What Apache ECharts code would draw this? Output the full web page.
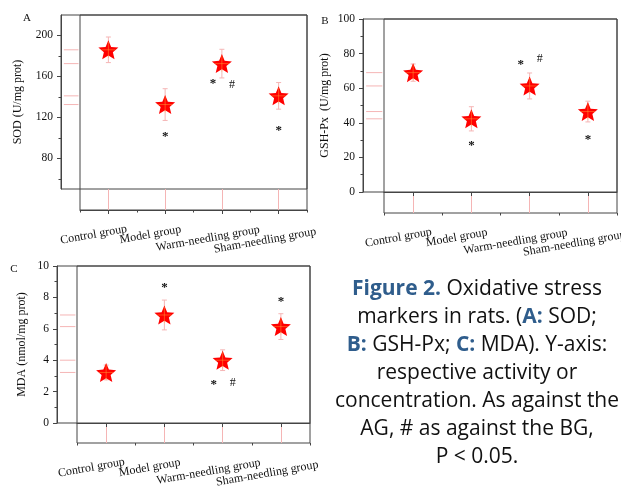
<!DOCTYPE html>
<html><head><meta charset="utf-8">
<script src="https://cdn.jsdelivr.net/npm/echarts@6/dist/echarts.min.js"></script>
<style>html,body{margin:0;padding:0;background:#fff}#c{width:621px;height:488px}</style>
</head><body><div id="c"></div>
<script>
// ---------- DATA ----------
const categories = ['Control group', 'Model group', 'Warm-needling group', 'Sham-needling group'];

// A: SOD (U/mg prot)
const sodMean  = [186, 132.5, 172.5, 141];
const sodSD    = [12.5, 15.5, 14, 13];
const sodStar  = [null, 104.5, 156, 110];
const sodHash  = [null, null, 152, null];
const sodTicks = [80, 120, 160, 200];
const sodMinor = [60, 100, 140, 180];

// B: GSH-Px (U/mg prot)
const gshMean  = [69, 42.3, 61.3, 46.5];
const gshSD    = [5, 7, 7.5, 6];
const gshStar  = [null, 28.6, 75.4, 32.1];
const gshHash  = [null, null, 76.9, null];
const gshTicks = [0, 20, 40, 60, 80, 100];
const gshMinor = [10, 30, 50, 70, 90];

// C: MDA (nmol/mg prot)
const mdaMean  = [3.22, 6.88, 4.0, 6.14];
const mdaSD    = [0.47, 0.95, 0.66, 0.82];
const mdaStar  = [null, 8.85, 2.65, 7.98];
const mdaHash  = [null, null, 2.54, null];
const mdaTicks = [0, 2, 4, 6, 8, 10];
const mdaMinor = [1, 3, 5, 7, 9];

// ---------- STYLE ----------
const FRAME = '#444';
const PINK = '#f5b5b5';
const SERIF = 'Liberation Serif';
const STAR = 'path://M100 0 L126.45 63.59 L195.11 69.1 L142.8 113.91 L158.78 180.9 L100 145 L41.22 180.9 L57.2 113.91 L4.89 69.1 L73.55 63.59 Z';
const labelDrop = [0, 0, 4, 6];

const option = {
  animation: false,
  backgroundColor: '#fff',
  textStyle: { fontFamily: SERIF },
  grid: [], xAxis: [], yAxis: [], series: [], graphic: [], title: []
};

function addGrid(g) {
  option.grid.push(Object.assign({ containLabel: false, outerBoundsMode: 'none', show: false }, g));
  return option.grid.length - 1;
}
function addX(a) { option.xAxis.push(a); return option.xAxis.length - 1; }
function addY(a) { option.yAxis.push(a); return option.yAxis.length - 1; }

function panel(p) {
  const L = p.layout;
  const W = L.right - L.inner;
  const H = L.plotBottom - L.top;
  const strip = L.axisY - L.plotBottom;
  const yOff = L.inner - L.outer;

  // outer frame with minor y ticks
  const gO = addGrid({ left: L.outer, top: L.top, width: L.right - L.outer, height: H, show: true, borderColor: FRAME, borderWidth: 1 });
  addX({ gridIndex: gO, type: 'value', show: false });
  addY({ gridIndex: gO, type: 'value', min: p.min, max: p.max, position: 'left',
    axisLine: { show: false }, axisLabel: { show: false }, splitLine: { show: false },
    axisTick: { show: true, customValues: p.minor, length: 2.5, lineStyle: { color: FRAME } } });

  // tall frame with minor x ticks at band boundaries
  const gT = addGrid({ left: L.inner, top: L.top, width: W, height: L.axisY - L.top, show: true, borderColor: FRAME, borderWidth: 1 });
  addX({ gridIndex: gT, type: 'category', data: categories, position: 'bottom',
    axisLine: { show: false }, axisLabel: { show: false }, splitLine: { show: false },
    axisTick: { show: true, interval: 0, length: 2.5, lineStyle: { color: FRAME } } });
  addY({ gridIndex: gT, type: 'value', show: false });

  // strip below plot: pink guide lines at categories
  const gS = addGrid({ left: L.inner, top: L.plotBottom, width: W, height: strip });
  addX({ gridIndex: gS, type: 'category', data: categories, position: 'bottom',
    axisLine: { show: false }, axisLabel: { show: false }, splitLine: { show: false },
    axisTick: { show: true, inside: true, alignWithLabel: true, interval: 0, length: strip, lineStyle: { color: PINK } } });
  addY({ gridIndex: gS, type: 'value', show: false });

  // left strip: pink lines at means
  const gL = addGrid({ left: L.outer, top: L.top, width: yOff, height: H });
  const xl = addX({ gridIndex: gL, type: 'value', min: 0, max: 1, show: false });
  const yl = addY({ gridIndex: gL, type: 'value', min: p.min, max: p.max, show: false });
  option.series.push({
    type: 'custom', xAxisIndex: xl, yAxisIndex: yl, silent: true,
    data: p.mean.map(v => [0, v]),
    renderItem: (params, api) => {
      const a = api.coord([0.15, api.value(1)]);
      const b = api.coord([0.92, api.value(1)]);
      return { type: 'line', shape: { x1: a[0], y1: a[1], x2: b[0], y2: b[1] }, style: { stroke: PINK, lineWidth: 1 } };
    }
  });

  // data grid
  const gD = addGrid({ left: L.inner, top: L.top, width: W, height: H });
  const xd = addX({ gridIndex: gD, type: 'category', position: 'bottom', offset: strip,
    data: categories.map((c, i) => ({ value: c, textStyle: { align: 'center', verticalAlign: 'top', padding: [labelDrop[i], 32, 0, 0] } })),
    axisLine: { show: true, lineStyle: { color: FRAME, width: 1 } },
    axisTick: { show: true, alignWithLabel: true, interval: 0, length: 4, lineStyle: { color: FRAME } },
    splitLine: { show: false },
    axisLabel: { interval: 0, rotate: 10, fontFamily: SERIF, fontSize: 12, color: '#111', margin: 16 } });
  const yd = addY({ gridIndex: gD, type: 'value', min: p.min, max: p.max, position: 'left', offset: yOff,
    name: p.name, nameLocation: 'middle', nameGap: p.nameGap, nameRotate: 90,
    nameTextStyle: { fontFamily: SERIF, fontSize: 12, color: '#111' },
    axisLine: { show: true, lineStyle: { color: FRAME, width: 1 } },
    axisTick: { show: true, customValues: p.ticks, length: 4, lineStyle: { color: FRAME } },
    axisLabel: { customValues: p.ticks, fontFamily: SERIF, fontSize: 11.5, color: '#111', margin: 8 },
    splitLine: { show: false } });

  const meanData = p.mean.map((m, i) => [i, m, p.sd[i]]);
  // error bars
  option.series.push({
    type: 'custom', xAxisIndex: xd, yAxisIndex: yd, silent: true, z: 2,
    data: meanData,
    renderItem: (params, api) => {
      const x = api.value(0), m = api.value(1), s = api.value(2);
      const t = api.coord([x, m + s]), b = api.coord([x, m - s]);
      const st = { stroke: PINK, lineWidth: 1 };
      return { type: 'group', children: [
        { type: 'line', shape: { x1: t[0], y1: t[1], x2: b[0], y2: b[1] }, style: st },
        { type: 'line', shape: { x1: t[0] - 2.5, y1: t[1], x2: t[0] + 2.5, y2: t[1] }, style: st },
        { type: 'line', shape: { x1: b[0] - 2.5, y1: b[1], x2: b[0] + 2.5, y2: b[1] }, style: st }
      ] };
    }
  });
  // stars
  option.series.push({
    type: 'scatter', xAxisIndex: xd, yAxisIndex: yd, z: 3, silent: true,
    symbol: STAR, symbolSize: [20, 19],
    itemStyle: { color: '#ff0000', opacity: 1 },
    data: p.mean.map((m, i) => [i, m])
  });
  // inner highlight cross
  option.series.push({
    type: 'custom', xAxisIndex: xd, yAxisIndex: yd, silent: true, z: 4,
    data: p.mean.map((m, i) => [i, m]),
    renderItem: (params, api) => {
      const c = api.coord([api.value(0), api.value(1)]);
      const st = { stroke: 'rgba(255,170,60,0.45)', lineWidth: 1 };
      return { type: 'group', children: [
        { type: 'line', shape: { x1: c[0] - 7, y1: c[1], x2: c[0] + 7, y2: c[1] }, style: st },
        { type: 'line', shape: { x1: c[0], y1: c[1] - 8, x2: c[0], y2: c[1] + 8 }, style: st }
      ] };
    }
  });
  // significance marks
  function marks(arr, text, isHash) {
    const data = [];
    arr.forEach((v, i) => { if (v != null) data.push([i, v, (!isHash && p.hash[i] != null) ? 1 : 0]); });
    option.series.push({
      type: 'custom', xAxisIndex: xd, yAxisIndex: yd, silent: true, z: 5,
      data: data,
      renderItem: (params, api) => {
        const c = api.coord([api.value(0), api.value(1)]);
        const dx = isHash ? 10 : (api.value(2) ? -9 : 0);
        return { type: 'text', x: c[0] + dx, y: c[1] + (isHash ? 0 : 3.5),
          style: { text: text, fill: '#111', fontFamily: SERIF, fontSize: isHash ? 12 : 13, fontWeight: isHash ? 'normal' : 'bold', align: 'center', verticalAlign: 'middle' } };
      }
    });
  }
  marks(p.star, '*', false);
  marks(p.hash, '#', true);

  option.graphic.push({ type: 'text', x: p.letter[1], y: p.letter[2], style: { text: p.letter[0], fill: '#111', font: '11px "Liberation Serif"', align: 'center', verticalAlign: 'middle' } });
}

panel({ layout: { outer: 61, inner: 80, right: 307, top: 15, plotBottom: 189, axisY: 210 },
  min: 50, max: 220, ticks: sodTicks, minor: sodMinor, mean: sodMean, sd: sodSD, star: sodStar, hash: sodHash,
  name: 'SOD (U/mg prot)', nameGap: 37, letter: ['A', 27, 18] });
panel({ layout: { outer: 363, inner: 384, right: 617, top: 19, plotBottom: 192, axisY: 213 },
  min: 0, max: 100, ticks: gshTicks, minor: gshMinor, mean: gshMean, sd: gshSD, star: gshStar, hash: gshHash,
  name: 'GSH-Px  (U/mg prot)', nameGap: 32, letter: ['B', 325, 21] });
panel({ layout: { outer: 57, inner: 77, right: 310, top: 266, plotBottom: 423, axisY: 443 },
  min: 0, max: 10, ticks: mdaTicks, minor: mdaMinor, mean: mdaMean, sd: mdaSD, star: mdaStar, hash: mdaHash,
  name: 'MDA (nmol/mg prot)', nameGap: 29, letter: ['C', 14, 269] });

option.title.push({
  text: '{b|Figure 2.} Oxidative stress\nmarkers in rats. ({b|A:} SOD;\n{b|B:} GSH-Px; {b|C:} MDA). Y-axis:\nrespective activity or\nconcentration. As against the\nAG, # as against the BG,\nP < 0.05.',
  left: 477, top: 275, textAlign: 'center', padding: 0,
  textStyle: { fontFamily: 'Open Sans', fontSize: 21, fontWeight: 'normal', color: '#111', lineHeight: 28,
    rich: { b: { fontFamily: 'Open Sans', fontSize: 21, fontWeight: 'bold', color: '#2f5d8c', lineHeight: 28 } } }
});

const chart = echarts.init(document.getElementById('c'), null, { renderer: 'canvas' });
chart.setOption(option);
</script></body></html>
